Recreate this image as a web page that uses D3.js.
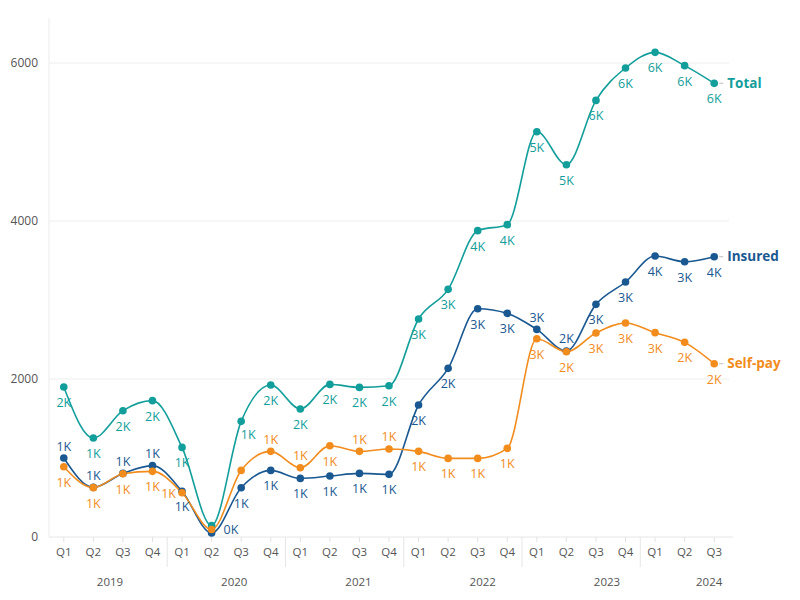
<!DOCTYPE html>
<html><head><meta charset="utf-8">
<script src="https://cdn.jsdelivr.net/npm/d3@7"></script>
<style>
body{margin:0;background:#fff}
svg text{font-family:"Open Sans",sans-serif}
</style>
</head><body>
<svg id="c" width="800" height="600"></svg>
<script>
// ---------- data ----------
const years = ["2019","2020","2021","2022","2023","2024"];
const periodYears = ["2019","2019","2019","2019","2020","2020","2020","2020","2021","2021","2021","2021","2022","2022","2022","2022","2023","2023","2023","2023","2024","2024","2024"];
const periodQuarters = ["Q1","Q2","Q3","Q4","Q1","Q2","Q3","Q4","Q1","Q2","Q3","Q4","Q1","Q2","Q3","Q4","Q1","Q2","Q3","Q4","Q1","Q2","Q3"];
const totalValues   = [1899,1253,1599,1726,1134,145,1464,1924,1620,1932,1894,1915,2760,3135,3878,3954,5130,4713,5527,5937,6135,5967,5743];
const insuredValues = [1000,628,805,903,578,50,624,843,742,772,805,793,1671,2135,2890,2831,2628,2355,2945,3228,3557,3485,3548];
const selfPayValues = [890,625,800,831,560,95,843,1084,877,1156,1084,1114,1084,995,995,1122,2510,2345,2583,2709,2587,2464,2194];
const seriesNames = ["Total","Insured","Self-pay"];
const yTicks = [0,2000,4000,6000];

(function(){
const seriesColors = ["#129e9a","#1a5891","#f28c1c"];
const seriesValues = [totalValues, insuredValues, selfPayValues];
const periods = periodYears.map((yr,i)=>yr+"-"+periodQuarters[i]);

const svg = d3.select("#c");
const pL=49, pR=729, pT=18, pB=537;
const x = d3.scaleBand().domain(periods).range([pL,pR]).padding(0);
const y = d3.scaleLinear().domain([0,6570]).range([pB,pT]);
const cx = p => x(p)+x.bandwidth()/2;

// grid
svg.append("g").selectAll("line").data(yTicks.filter(d=>d>0)).join("line")
  .attr("x1",pL).attr("x2",pR).attr("y1",d=>y(d)).attr("y2",d=>y(d))
  .attr("stroke","#eeeeee").attr("stroke-width",1);
svg.append("line").attr("x1",pL).attr("x2",pL).attr("y1",pT).attr("y2",pB)
  .attr("stroke","#ececec");
svg.append("line").attr("x1",pL).attr("x2",pR+4).attr("y1",pB).attr("y2",pB)
  .attr("stroke","#e6e6e6");
svg.append("g").selectAll("text").data(yTicks).join("text")
  .attr("x",38).attr("y",d=>y(d)).attr("dy","0.35em").attr("text-anchor","end")
  .attr("font-size",12).attr("fill","#555").text(d=>d);

// quarter ticks and labels
svg.append("g").selectAll("line").data(periods).join("line")
  .attr("x1",cx).attr("x2",cx).attr("y1",pB).attr("y2",pB+5)
  .attr("stroke","#e2e2e2");
svg.append("g").selectAll("text").data(periods).join("text")
  .attr("x",cx).attr("y",552).attr("dy","0.35em").attr("text-anchor","middle")
  .attr("font-size",11.5).attr("fill","#555").text((d,i)=>periodQuarters[i]);

// year separators and labels
const yearStarts = years.slice(1).map(yr=>x(periods[periodYears.indexOf(yr)]));
svg.append("g").selectAll("line").data(yearStarts).join("line")
  .attr("x1",d=>d).attr("x2",d=>d).attr("y1",pB).attr("y2",567)
  .attr("stroke","#e6e6e6");
const yearLabelScale = d3.scaleLinear().domain([0,4]).range([110,607]);
svg.append("g").selectAll("text").data(years).join("text")
  .attr("x",(d,i)=>{
    const n = periodYears.filter(v=>v===d).length;
    if(n===4) return yearLabelScale(i);
    const last = periods[periodYears.lastIndexOf(d)];
    return cx(last)-5;
  })
  .attr("y",582).attr("dy","0.35em").attr("text-anchor","middle")
  .attr("font-size",11.5).attr("fill","#555").text(d=>d);

// lines and markers
const line = d3.line().x((d,i)=>cx(periods[i])).y(d=>y(d)).curve(d3.curveMonotoneX);
const paths = seriesValues.map((vals,s)=>
  svg.append("path").datum(vals).attr("d",line).attr("fill","none")
    .attr("stroke",seriesColors[s]).attr("stroke-width",1.6).node());
seriesValues.forEach((vals,s)=>{
  svg.append("g").selectAll("circle").data(vals).join("circle")
    .attr("cx",(d,i)=>cx(periods[i])).attr("cy",d=>y(d)).attr("r",3.8)
    .attr("fill",seriesColors[s]);
});

// ---------- label placement ----------
const boxes = [];
const overlap=(a,b)=>a.x0<b.x1&&a.x1>b.x0&&a.y0<b.y1&&a.y1>b.y0;
seriesValues.forEach(vals=>vals.forEach((v,i)=>{
  const px=cx(periods[i]), py=y(v);
  boxes.push({x0:px-4,x1:px+4,y0:py-4,y1:py+4});
}));
const samples=[];
paths.forEach(p=>{
  const L=p.getTotalLength();
  for(let l=0;l<=L;l+=0.75){samples.push(p.getPointAtLength(l));}
});

// series names at right end
const lastI = periods.length-1;
seriesValues.forEach((vals,s)=>{
  const px=cx(periods[lastI]), py=y(vals[lastI]);
  svg.append("line").attr("x1",px+5).attr("x2",px+9).attr("y1",py).attr("y2",py)
    .attr("stroke","#c8c8c8").attr("stroke-width",1.2);
  const t=svg.append("text").attr("x",px+13).attr("y",py).attr("dy","0.35em")
    .attr("font-family","Lato").attr("font-weight",700).attr("font-size",13.5)
    .attr("fill",seriesColors[s]).text(seriesNames[s]);
  const w=t.node().getComputedTextLength();
  boxes.push({x0:px+13,x1:px+13+w,y0:py-6,y1:py+6});
});

const fmt = v=>Math.round(v/1000)+"K";
const H=9;
seriesValues.forEach((vals,s)=>{
  vals.forEach((v,i)=>{
    const px=cx(periods[i]), py=y(v);
    const t=svg.append("text").attr("font-size",12.5).attr("fill",seriesColors[s])
      .attr("text-anchor","middle").attr("dy","0.36em").text(fmt(v));
    const w=t.node().getComputedTextLength();
    const below={dx:0,dy:15.5,len:true}, belowR={dx:7,dy:13}, above={dx:0,dy:-12},
      aboveR={dx:7,dy:-11}, belowL={dx:-7,dy:13}, aboveL={dx:-7,dy:-11},
      rightC={dx:12+w/2,dy:-4}, leftC={dx:-(6+w/2),dy:1};
    // another series' point just below -> prefer putting the label above
    const crowdedBelow = seriesValues.some((ov,os)=>{
      if(os===s) return false;
      const d=y(ov[i])-py; return d>0 && d<27;
    });
    const cands = crowdedBelow
      ? [above,aboveR,below,belowR,aboveL,belowL,rightC,leftC]
      : [below,belowR,above,aboveR,belowL,aboveL,rightC,leftC];
    let chosen=null;
    for(const c0 of cands){
      const c={x0:px+c0.dx-w/2,x1:px+c0.dx+w/2,y0:py+c0.dy-H/2,y1:py+c0.dy+H/2};
      if(c.x0<pL||c.x1>pR+4||c.y0<pT||c.y1>pB+1) continue;
      if(boxes.some(b=>overlap(b,c))) continue;
      const sx=c0.len?3:0, sy=c0.len?0.5:0;
      const sh={x0:c.x0+sx,x1:c.x1-sx,y0:c.y0+sy,y1:c.y1-sy};
      if(samples.some(p=>p.x>sh.x0&&p.x<sh.x1&&p.y>sh.y0&&p.y<sh.y1)) continue;
      chosen={c0,c};break;
    }
    if(!chosen){t.remove();return;}
    t.attr("x",px+chosen.c0.dx).attr("y",py+chosen.c0.dy);
    boxes.push(chosen.c);
  });
});
})();
</script>
</body></html>
